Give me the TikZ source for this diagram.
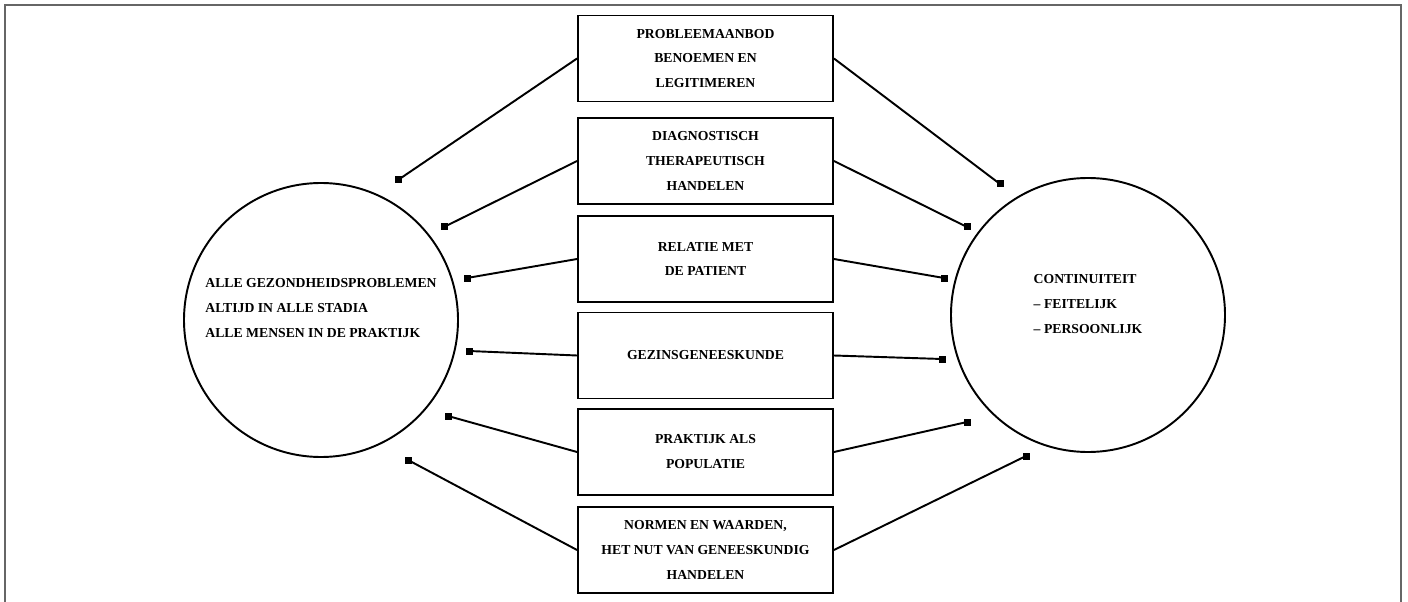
\documentclass[tikz,border=0pt]{standalone}
\usepackage{fontspec}
\setmainfont{Liberation Serif}
\usetikzlibrary{positioning}

\tikzset{
  taakbox/.style={draw, line width=1.1pt, minimum width=5.1cm, minimum height=1.72cm, align=center, font=\fontsize{7.8}{14.2}\selectfont\bfseries},
  kring/.style={draw, circle, line width=1.1pt, minimum size=5.48cm},
  kringtekst/.style={align=left, font=\fontsize{7.8}{14.2}\selectfont\bfseries},
  eindpunt/.style={fill, inner sep=0pt, minimum size=0.14cm},
  verbinding/.style={line width=1.1pt}
}

\begin{document}
\begin{tikzpicture}
  \useasboundingbox (0,0) rectangle (28.16,-12.04);
  % kader
  \draw[gray!80!black, line width=1pt] (0.1,-12.04) |- (28.02,-0.1) -- (28.02,-12.04);

  % kringen
  \node[kring] (links) at (6.42,-6.4) {};
  \node[kringtekst] (linkstekst) at (6.42,-6.16) {ALLE GEZONDHEIDSPROBLEMEN\\ALTIJD IN ALLE STADIA\\ALLE MENSEN IN DE PRAKTIJK};
  \node[kring] (rechts) at (21.76,-6.3) {};
  \node[kringtekst] (rechtstekst) at (21.76,-6.08) {CONTINUITEIT\\-- FEITELIJK\\-- PERSOONLIJK};

  % taken
  \node[taakbox] (t1) at (14.11,-1.17) {PROBLEEMAANBOD\\BENOEMEN EN\\LEGITIMEREN};
  \node[taakbox] (t2) at (14.11,-3.22) {DIAGNOSTISCH\\THERAPEUTISCH\\HANDELEN};
  \node[taakbox] (t3) at (14.11,-5.18) {RELATIE MET\\DE PATIENT};
  \node[taakbox] (t4) at (14.11,-7.11) {GEZINSGENEESKUNDE};
  \node[taakbox] (t5) at (14.11,-9.04) {PRAKTIJK ALS\\POPULATIE};
  \node[taakbox] (t6) at (14.11,-11.0) {NORMEN EN WAARDEN,\\HET NUT VAN GENEESKUNDIG\\HANDELEN};

  % eindpunten links
  \node[eindpunt] (l1) at (7.96,-3.6) {};
  \node[eindpunt] (l2) at (8.88,-4.54) {};
  \node[eindpunt] (l3) at (9.34,-5.56) {};
  \node[eindpunt] (l4) at (9.38,-7.02) {};
  \node[eindpunt] (l5) at (8.96,-8.32) {};
  \node[eindpunt] (l6) at (8.16,-9.2) {};

  % eindpunten rechts
  \node[eindpunt] (r1) at (20.0,-3.68) {};
  \node[eindpunt] (r2) at (19.34,-4.54) {};
  \node[eindpunt] (r3) at (18.88,-5.56) {};
  \node[eindpunt] (r4) at (18.84,-7.18) {};
  \node[eindpunt] (r5) at (19.34,-8.44) {};
  \node[eindpunt] (r6) at (20.52,-9.12) {};

  \foreach \i in {1,...,6} {
    \draw[verbinding] (t\i.west) -- (l\i.center);
    \draw[verbinding] (t\i.east) -- (r\i.center);
  }
\end{tikzpicture}
\end{document}
